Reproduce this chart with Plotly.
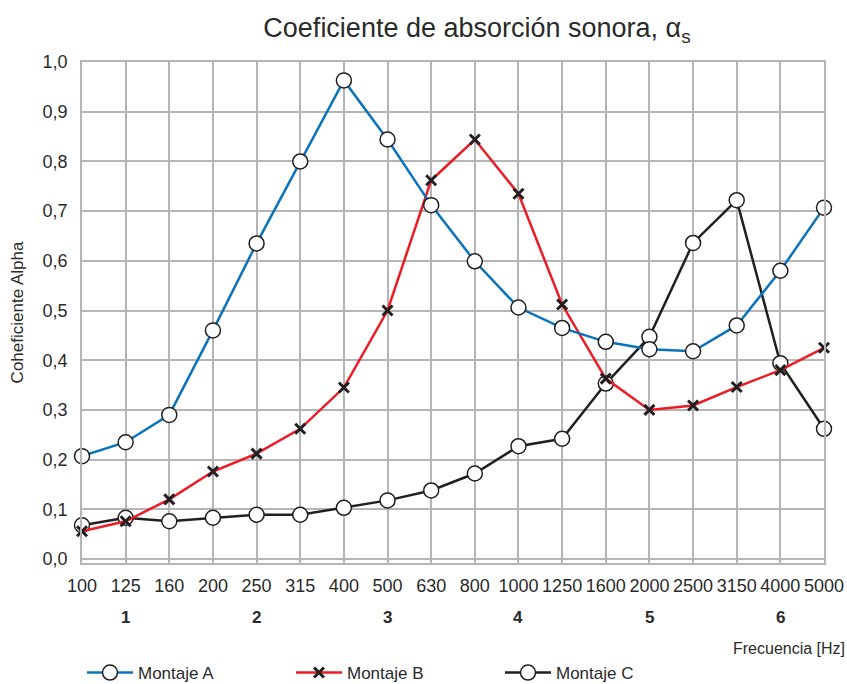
import plotly.graph_objects as go

freqs = ["100", "125", "160", "200", "250", "315", "400", "500", "630", "800",
         "1000", "1250", "1600", "2000", "2500", "3150", "4000", "5000"]
montaje_a = [0.207, 0.235, 0.29, 0.46, 0.635, 0.80, 0.963, 0.844, 0.712, 0.599,
             0.506, 0.465, 0.437, 0.422, 0.418, 0.47, 0.58, 0.707]
montaje_b = [0.056, 0.076, 0.12, 0.176, 0.212, 0.262, 0.345, 0.50, 0.762, 0.844,
             0.735, 0.512, 0.363, 0.30, 0.309, 0.346, 0.38, 0.425]
montaje_c = [0.068, 0.083, 0.076, 0.083, 0.089, 0.089, 0.103, 0.118, 0.138, 0.172,
             0.227, 0.242, 0.353, 0.447, 0.636, 0.722, 0.394, 0.262]
octave_labels = ["1", "2", "3", "4", "5", "6"]
octave_centers = ["125", "250", "500", "1000", "2000", "4000"]
y_ticks = [0.0, 0.1, 0.2, 0.3, 0.4, 0.5, 0.6, 0.7, 0.8, 0.9, 1.0]

BLUE = "#0a73bb"
RED = "#ec1c24"
BLACK = "#231f20"
GRID = "#b5b5b5"
TXT = "#2a2a2a"

W, H = 847, 684
ML, MR, MT, MB = 82, 23, 62, 121
PH = H - MT - MB
PW = W - ML - MR


def py(pix):
    return (H - MB - pix) / PH


def px(pix):
    return (pix - ML) / PW


circle = dict(symbol="circle", size=15, color="white", line=dict(color=BLACK, width=1.5))

fig = go.Figure()
fig.add_trace(go.Scatter(x=freqs, y=montaje_c, name="Montaje C", mode="lines+markers",
                         line=dict(color=BLACK, width=2.5), marker=circle,
                         legendrank=3, cliponaxis=False))
fig.add_trace(go.Scatter(x=freqs, y=montaje_b, name="Montaje B", mode="lines+markers",
                         line=dict(color=RED, width=2.5),
                         marker=dict(symbol="x-thin", size=10, line=dict(color=BLACK, width=3)),
                         legendrank=2, cliponaxis=False))
fig.add_trace(go.Scatter(x=freqs, y=montaje_a, name="Montaje A", mode="lines+markers",
                         line=dict(color=BLUE, width=2.5), marker=circle,
                         legendrank=1, cliponaxis=False))

for lab, cen in zip(octave_labels, octave_centers):
    fig.add_annotation(x=freqs.index(cen), xref="x", y=py(617), yref="paper", yanchor="middle",
                       text=f"<b>{lab}</b>", showarrow=False,
                       font=dict(size=17, color=TXT))
fig.add_annotation(x=px(847), xref="paper", xanchor="right", y=py(648), yref="paper",
                   yanchor="middle", text="Frecuencia [Hz]", showarrow=False,
                   font=dict(size=16, color=TXT))

fig.update_layout(
    width=W, height=H,
    margin=dict(l=ML, r=MR, t=MT, b=MB, autoexpand=False),
    paper_bgcolor="white", plot_bgcolor="white",
    font=dict(family="Liberation Sans, Arial, sans-serif", color=TXT),
    title=dict(text="Coeficiente de absorción sonora, α<sub>s</sub>",
               x=477 / W, xanchor="center", y=1 - 28 / H, yanchor="middle",
               font=dict(size=27, color=TXT)),
    xaxis=dict(type="category", categoryorder="array", categoryarray=freqs,
               range=[0, len(freqs) - 1], showgrid=True, gridcolor=GRID, gridwidth=1.5,
               showline=True, linecolor=GRID, linewidth=1.5, mirror=True,
               ticks="", tickfont=dict(size=18, color=TXT), ticklabelstandoff=6,
               tickangle=0, zeroline=False, automargin=False),
    yaxis=dict(range=[-0.008, 1.0], tickvals=y_ticks,
               ticktext=[f"{v:.1f}".replace(".", ",") for v in y_ticks],
               showgrid=True, gridcolor=GRID, gridwidth=1.5,
               showline=True, linecolor=GRID, linewidth=1.5, mirror=True,
               ticks="", tickfont=dict(size=18, color=TXT), ticklabelstandoff=9,
               zeroline=False, automargin=False,
               title=dict(text="Coheficiente Alpha", font=dict(size=17, color=TXT), standoff=15)),
    legend=dict(orientation="h", x=82 / W, xref="container", xanchor="left",
                y=(H - 655) / H, yref="container", yanchor="top",
                font=dict(size=17, color=TXT), entrywidth=148, entrywidthmode="pixels",
                traceorder="normal", itemwidth=46),
    showlegend=True,
)

fig.write_html("out.html", config={"displayModeBar": False},
               post_script="document.body.style.margin='0';")
